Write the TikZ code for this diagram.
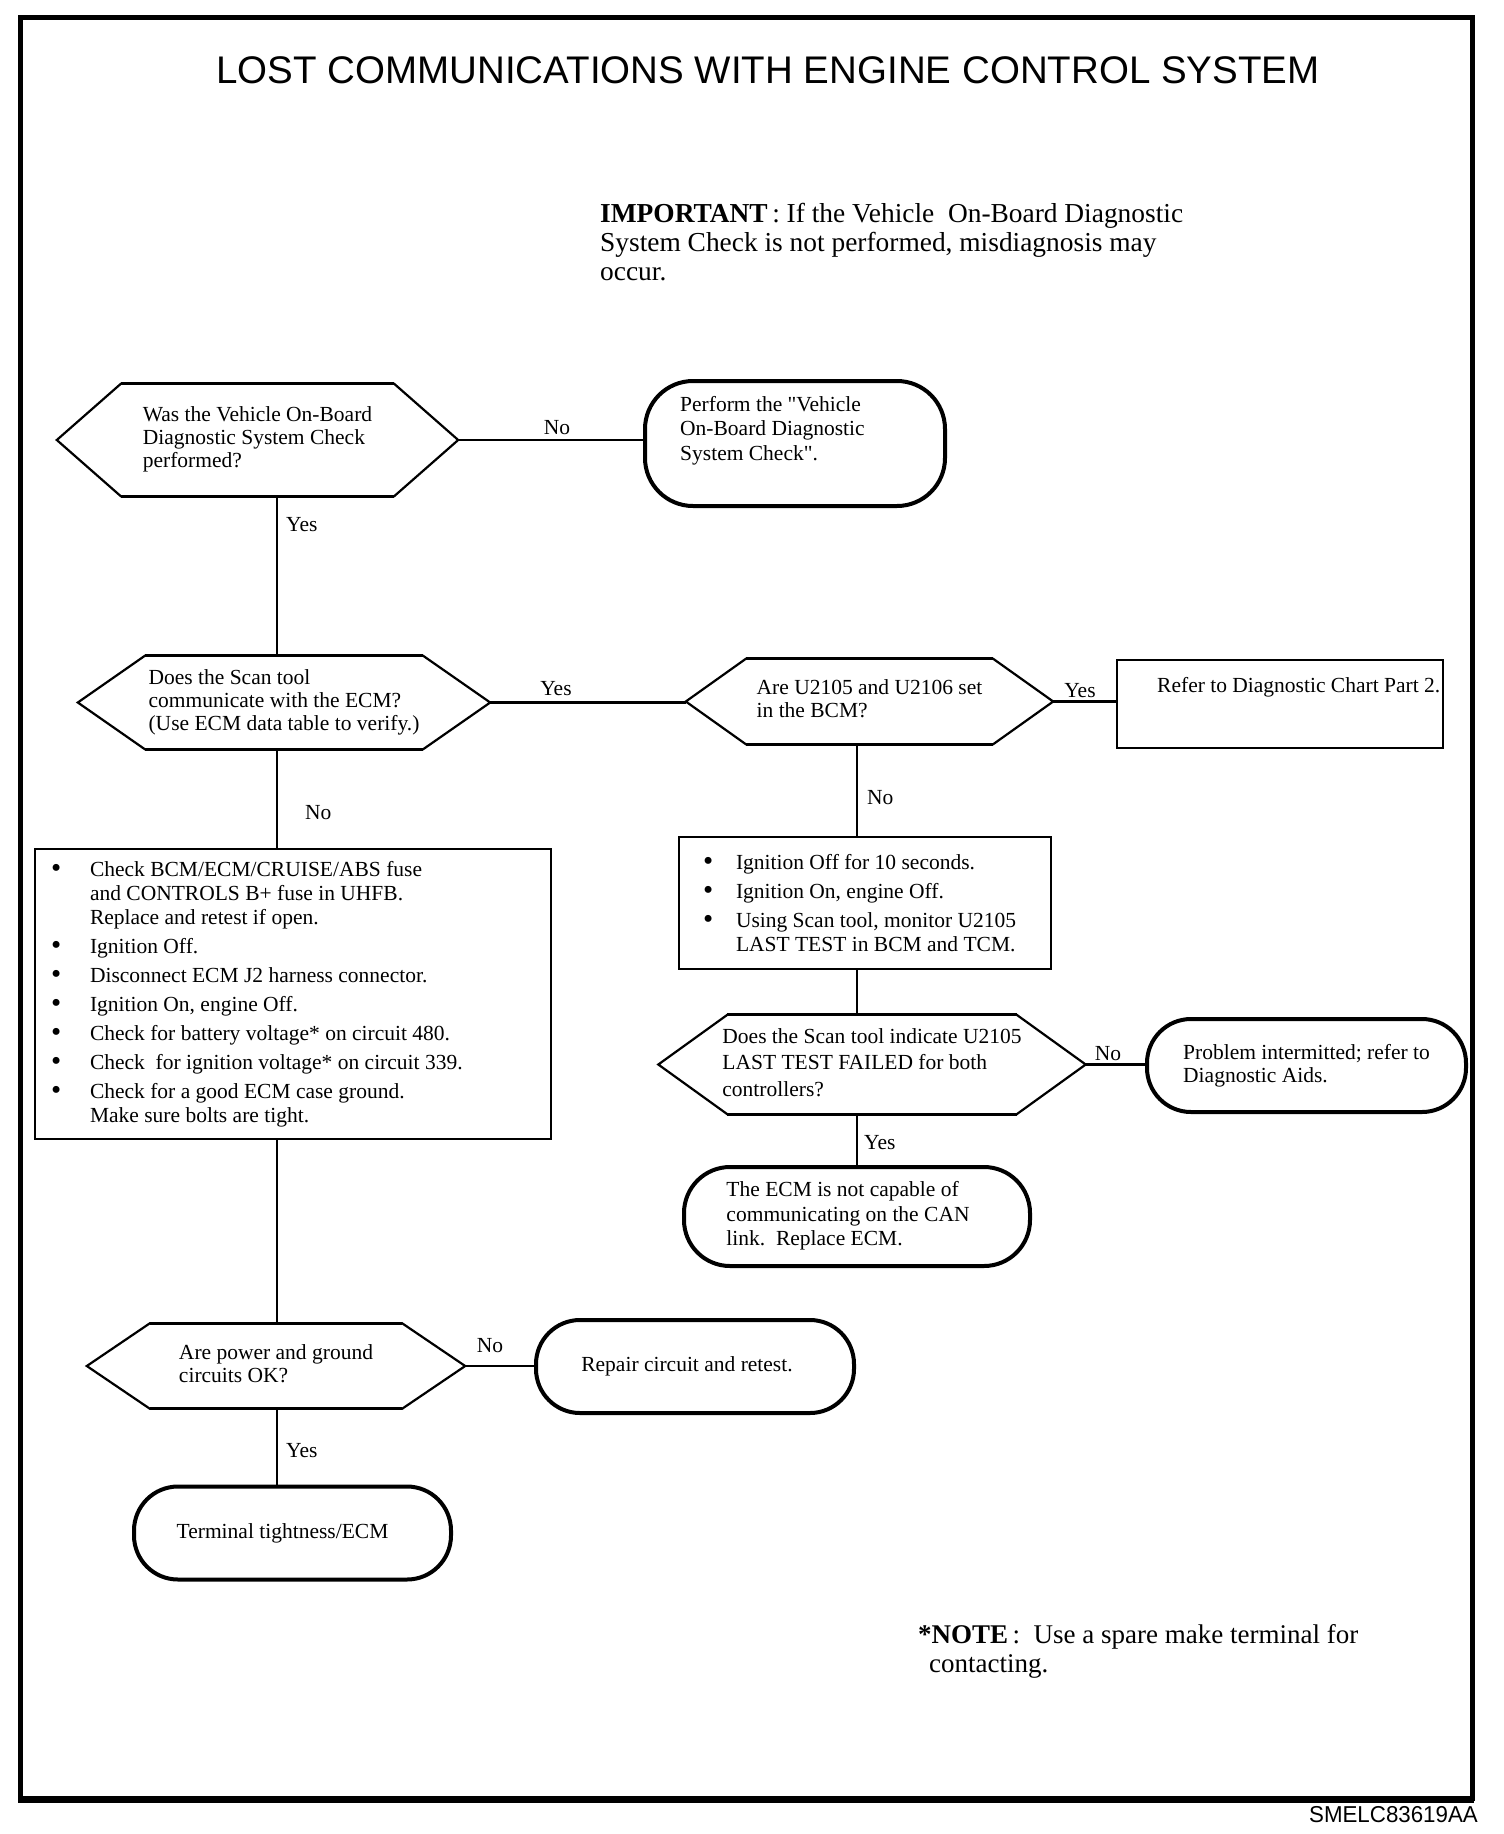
\documentclass[tikz,border=0pt]{standalone}
\usepackage{fontspec}
\usepackage{graphicx}
\setmainfont{Liberation Serif}
\newfontfamily\sansfam{Liberation Sans}
\newfontfamily\plainserif{Liberation Serif}
\usetikzlibrary{calc}

\newcommand{\chartfont}{\fontsize{21.5}{23}\selectfont}
\newcommand{\bigfont}{\fontsize{27}{29}\selectfont}
\newcommand{\sq}{{\plainserif"}}
\newcommand{\bigbullet}{\raisebox{-1.5pt}{\scalebox{1.35}{\textbullet}}}
\newcommand{\bitem}[2]{\par\noindent\hangindent=#1\hangafter=1\makebox[#1][l]{\bigbullet}#2}
\newcommand{\hexdraw}[2]{\draw[hexline] (#1.west) -- ([xshift=#2pt]#1.north west) -- ([xshift=-#2pt]#1.north east) -- (#1.east) -- ([xshift=-#2pt]#1.south east) -- ([xshift=#2pt]#1.south west) -- cycle;
  \draw[hexedge] ([xshift=#2pt]#1.north west) -- ([xshift=-#2pt]#1.north east);
  \draw[hexedge] ([xshift=#2pt]#1.south west) -- ([xshift=-#2pt]#1.south east);}
\newcommand{\hextext}[2]{\begin{tabular}{@{}l@{}}#2\end{tabular}\hspace{#1}}

\tikzset{
  hexline/.style={line width=2.2pt, line join=miter},
  hexedge/.style={line width=3pt},
  hexnode/.style={inner sep=0pt, font=\chartfont},
  oval/.style={draw, line width=4pt, rounded corners=44pt, inner sep=0pt, font=\chartfont, align=left},
  plainbox/.style={draw, line width=2pt, inner sep=0pt, font=\chartfont},
  conn/.style={line width=2.2pt},
  lbl/.style={inner sep=0pt, font=\chartfont},
}

\begin{document}
\begin{tikzpicture}[x=1pt,y=-1pt]
\useasboundingbox (0,0) rectangle (1504,1834);
% frame
\draw[line width=5pt] (20,17) rectangle (1472,1798);
\draw[line width=7pt] (18,1799) -- (1474,1799);

% title and notes
\node[anchor=base, inner sep=0pt, font=\sansfam\fontsize{38.5}{40}\selectfont] (title) at (768,83) {LOST COMMUNICATIONS WITH ENGINE CONTROL SYSTEM};
\node[anchor=base west, inner sep=0pt] (imp) at (600,222) {\parbox[t]{700pt}{\fontsize{27.4}{29}\selectfont\raggedright\textbf{IMPORTANT}\,: If the Vehicle\ \ On-Board Diagnostic\\System Check is not performed, misdiagnosis may\\occur.}};
\node[anchor=base west, inner sep=0pt] (note) at (918,1643) {\parbox[t]{600pt}{\bigfont\raggedright\textbf{*NOTE}\,:\ \ Use a spare make terminal for\\\hspace*{11pt}contacting.}};
\node[anchor=base east, inner sep=0pt, font=\sansfam\fontsize{23}{25}\selectfont] (code) at (1478,1822) {\scalebox{0.97}[1]{SMELC83619AA}};

% decisions
\node[hexnode, minimum width=401pt, minimum height=112pt] (h1) at (257.5,440) {\hextext{26pt}{Was the Vehicle On-Board\\Diagnostic System Check\\performed?}};
\hexdraw{h1}{64}
\node[hexnode, minimum width=412pt, minimum height=93pt] (h2) at (284,702.5) {\hextext{10pt}{Does the Scan tool\\communicate with the ECM?\\(Use ECM data table to verify.)}};
\hexdraw{h2}{67}
\node[hexnode, minimum width=367pt, minimum height=85pt] (h3) at (869.5,701.5) {\hextext{24pt}{Are U2105 and U2106 set\\in the BCM?}};
\hexdraw{h3}{60}
\node[hexnode, minimum width=427pt, minimum height=99pt, font=\fontsize{21.5}{26.5}\selectfont] (h4) at (872,1064.5) {\hextext{4pt}{Does the Scan tool indicate U2105\\LAST TEST FAILED for both\\controllers?}};
\hexdraw{h4}{69}
\node[hexnode, minimum width=378pt, minimum height=85pt] (h5) at (276,1366) {\hextext{30pt}{Are power and ground\\circuits OK?}};
\hexdraw{h5}{63}

% terminals
\node[oval, rounded corners=48pt, minimum width=300pt, minimum height=125pt] (perf) at (795,443.5) {};
\node[lbl, anchor=base west] (perftxt) at (680,411) {\parbox[t]{260pt}{\fontsize{21.5}{24.5}\selectfont\raggedright Perform the \sq Vehicle\\On-Board Diagnostic\\System Check\sq.}};
\node[oval, minimum width=319pt, minimum height=93pt] (prob) at (1306.5,1065.5) {Problem intermitted; refer to\\Diagnostic Aids.};
\node[oval, rounded corners=46pt, minimum width=346pt, minimum height=99pt, align=center, font=\fontsize{21.5}{24.5}\selectfont] (ecm) at (857,1216.5) {\hextext{18pt}{The ECM is not capable of\\communicating on the CAN\\link.\ \ Replace ECM.}};
\node[oval, minimum width=318pt, minimum height=93pt] (repair) at (695,1366.5) {Repair circuit and retest.\hspace{16pt}};
\node[oval, minimum width=317pt, minimum height=93pt] (term) at (292.5,1533) {Terminal tightness/ECM\hspace{20pt}};

% boxes
\node[plainbox, anchor=north west, minimum width=326pt, minimum height=88pt] (refer) at (1116,659) {};
\node[lbl, anchor=base west] (refertxt) at (1157,692) {Refer to Diagnostic Chart Part 2.};

\node[plainbox, minimum width=516pt, minimum height=290pt] (box1) at (293,994) {\makebox[484pt][l]{\parbox{500pt}{\fontsize{21.5}{24}\selectfont\raggedright\parskip=5pt
\bitem{39pt}{Check BCM/ECM/CRUISE/ABS fuse\newline and CONTROLS B+ fuse in UHFB.\newline Replace and retest if open.}
\bitem{39pt}{Ignition Off.}
\bitem{39pt}{Disconnect ECM J2 harness connector.}
\bitem{39pt}{Ignition On, engine Off.}
\bitem{39pt}{Check for battery voltage* on circuit 480.}
\bitem{39pt}{Check\ \ for ignition voltage* on circuit 339.}
\bitem{39pt}{Check for a good ECM case ground.\newline Make sure bolts are tight.}}}};

\node[plainbox, minimum width=372pt, minimum height=132pt] (box2) at (865,903) {\makebox[324pt][l]{\parbox{360pt}{\fontsize{21.5}{24}\selectfont\raggedright\parskip=5pt
\bitem{33pt}{Ignition Off for 10 seconds.}
\bitem{33pt}{Ignition On, engine Off.}
\bitem{33pt}{Using Scan tool, monitor U2105\newline LAST TEST in BCM and TCM.}}}};

% connectors
\coordinate (spineL) at (277,0);
\coordinate (spineR) at (857,0);
\draw[conn] (h1.south -| spineL) -- (h2.north -| spineL);
\draw[conn] (h2.south -| spineL) -- (box1.north -| spineL);
\draw[conn] (box1.south -| spineL) -- (h5.north -| spineL);
\draw[conn] (h5.south -| spineL) -- (term.north -| spineL);
\draw[conn] (h1.east) -- (h1.east -| perf.west);
\draw[conn] (h2.east) -- (h2.east -| h3.west);
\draw[conn] (h3.east) -- (h3.east -| refer.west);
\draw[conn] (h3.south -| spineR) -- (box2.north -| spineR);
\draw[conn] (box2.south -| spineR) -- (h4.north -| spineR);
\draw[conn] (h4.east) -- (h4.east -| prob.west);
\draw[conn] (h4.south -| spineR) -- (ecm.north -| spineR);
\draw[conn] (h5.east) -- (h5.east -| repair.west);

% labels
\node[lbl, anchor=base] (l1) at (557,434) {No};
\node[lbl, anchor=base west] (l2) at (286,531) {Yes};
\node[lbl, anchor=base] (l3) at (556,695) {Yes};
\node[lbl, anchor=base] (l4) at (1080,697) {Yes};
\node[lbl, anchor=base west] (l5) at (867,804) {No};
\node[lbl, anchor=base west] (l6) at (305,819) {No};
\node[lbl, anchor=base] (l7) at (1108,1060) {No};
\node[lbl, anchor=base west] (l8) at (864,1149) {Yes};
\node[lbl, anchor=base] (l9) at (490,1352) {No};
\node[lbl, anchor=base west] (l10) at (286,1457) {Yes};
\end{tikzpicture}
\end{document}
